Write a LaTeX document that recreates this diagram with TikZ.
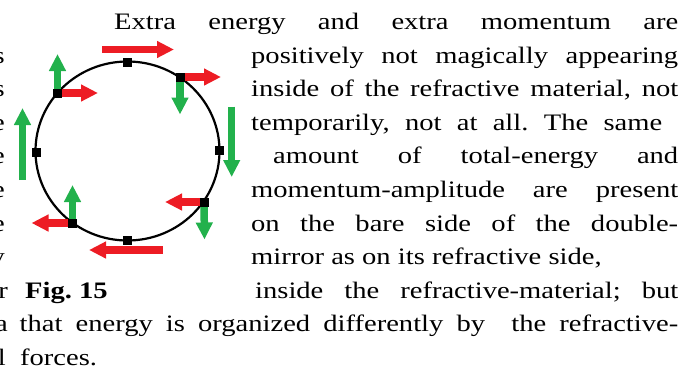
\documentclass[tikz,border=0pt]{standalone}
\usepackage{fontspec}
\setmainfont{Liberation Serif}[FakeStretch=1.21]
\usetikzlibrary{arrows.meta}
\definecolor{mred}{RGB}{237,28,36}
\definecolor{mgreen}{RGB}{34,177,76}
\frenchspacing
\tikzset{
  txt/.style={inner sep=0pt, anchor=base west, font=\fontsize{23.6}{33.6}\selectfont},
  edge/.style={inner sep=0pt, anchor=base east, font=\fontsize{23.6}{33.6}\selectfont},
  sq/.style={fill=black, inner sep=0pt, minimum size=9pt},
  redarr/.style={mred, line width=7.5pt, -{Triangle[length=17pt,width=16pt]}},
  greenarr/.style={mgreen, line width=7.5pt, -{Triangle[length=17pt,width=16pt]}}
}
\begin{document}
\begin{tikzpicture}[x=1pt, y=-1pt]
    \useasboundingbox (0,0) rectangle (693,373);
    % Ring
    \draw[line width=2.2pt] (127.5,151) ellipse [x radius=92, y radius=89.5];
    % Points on the ring
    \coordinate (p1) at (127,62);
    \coordinate (p2) at (180,77);
    \coordinate (p3) at (219,150);
    \coordinate (p4) at (204,202);
    \coordinate (p5) at (127,240);
    \coordinate (p6) at (72.5,223);
    \coordinate (p7) at (36,152);
    \coordinate (p8) at (57.5,93);
    % Free arrow ends
    \coordinate (t1a) at (102,49.5);   \coordinate (t1b) at (174,49.5);
    \coordinate (t2r) at (221,77);     \coordinate (t2g) at (180,114.5);
    \coordinate (t3a) at (231.7,106.5); \coordinate (t3b) at (231.7,177);
    \coordinate (t4r) at (165,202);    \coordinate (t4g) at (204.5,239.5);
    \coordinate (t5a) at (162.5,250);  \coordinate (t5b) at (89,250);
    \coordinate (t6r) at (31.5,223);   \coordinate (t6g) at (72.5,185);
    \coordinate (t7a) at (22.5,180);   \coordinate (t7b) at (22.5,108);
    \coordinate (t8r) at (98,93);      \coordinate (t8g) at (57.5,54);
    % Momentum (red) and energy (green) arrows
    \draw[redarr] (t1a) -- (t1b);
    \draw[redarr] (p2) -- (t2r);
    \draw[greenarr] (p2) -- (t2g);
    \draw[greenarr] (t3a) -- (t3b);
    \draw[redarr] (p4) -- (t4r);
    \draw[greenarr] (p4) -- (t4g);
    \draw[redarr] (t5a) -- (t5b);
    \draw[redarr] (p6) -- (t6r);
    \draw[greenarr] (p6) -- (t6g);
    \draw[greenarr] (t7a) -- (t7b);
    \draw[redarr] (p8) -- (t8r);
    \draw[greenarr] (p8) -- (t8g);
    % Squares
    \foreach \i in {1,...,8}
      \node[sq] (s\i) at (p\i) {};
    % Text beside the figure
    \node[txt] (l1) at (114,29.5) {\makebox[564pt][s]{Extra energy and extra momentum are}};
    \node[txt] (l2) at (251,63.1) {\makebox[427pt][s]{positively not magically appearing}};
    \node[txt] (l3) at (251,96.7) {\makebox[427pt][s]{inside of the refractive material, not}};
    \node[txt] (l4) at (251,130.3) {\makebox[411pt][s]{temporarily, not at all. The same}};
    \node[txt] (l5) at (273,163.9) {\makebox[405pt][s]{amount of total-energy and}};
    \node[txt] (l6) at (251,197.5) {\makebox[427pt][s]{momentum-amplitude are present}};
    \node[txt] (l7) at (251,231.1) {\makebox[427pt][s]{on the bare side of the double-}};
    \node[txt] (l8) at (251,264.7) {mirror as on its refractive side,};
    \node[txt] (fig) at (25,298.3) {\bfseries Fig. 15};
    \node[txt] (l9) at (255,298.3) {\makebox[423pt][s]{inside the refractive-material; but}};
    \node[txt] (l10) at (19.5,331.9) {\makebox[658.5pt][s]{that energy is organized differently by\ \ the refractive-}};
    \node[txt] (l11) at (20,365.5) {forces.};
    % Ends of the previous column
    \node[edge] (e1) at (5,63.1) {s};
    \node[edge] (e2) at (5,96.7) {s};
    \node[edge] (e3) at (5,130.3) {e};
    \node[edge] (e4) at (5,163.9) {e};
    \node[edge] (e5) at (5,197.5) {e};
    \node[edge] (e6) at (5,231.1) {e};
    \node[edge] (e7) at (5,264.7) {y};
    \node[edge] (e8) at (8,298.3) {r};
    \node[edge] (e9) at (8,331.9) {a};
    \node[edge] (e10) at (6,365.5) {l};
\end{tikzpicture}
\end{document}
